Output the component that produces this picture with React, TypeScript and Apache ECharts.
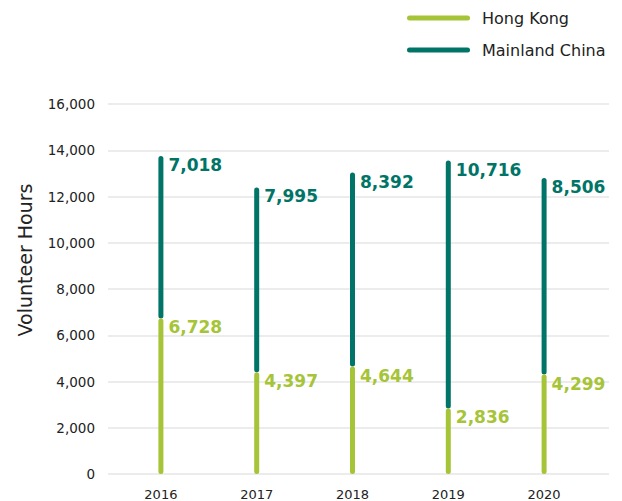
import React, { useEffect, useRef } from "react";
import * as echarts from "echarts";

const years = ["2016", "2017", "2018", "2019", "2020"];
const hongKong = [6728, 4397, 4644, 2836, 4299];
const mainland = [7018, 7995, 8392, 10716, 8506];
const yTicks = { min: 0, max: 16000, interval: 2000 };

const GREEN = "#a6c437";
const TEAL = "#007466";
const FONT = "DejaVu Sans";

const fmt = (v: number) => v.toLocaleString("en-US");

export default function App() {
  const ref = useRef<HTMLDivElement>(null);
  useEffect(() => {
    if (!ref.current) return;
    const chart = echarts.init(ref.current, null, { renderer: "svg" });
    const legendIcon =
      "path://M2.5,0 L60.5,0 A2.5,2.5 0 0 1 60.5,5 L2.5,5 A2.5,2.5 0 0 1 2.5,0 Z";
    const labelCommon = {
      show: true,
      position: [10, 9] as any,
      align: "left",
      verticalAlign: "middle",
      fontFamily: FONT,
      fontWeight: "bold",
      fontSize: 17,
      formatter: (p: any) => fmt(p.value),
    };
    chart.setOption({
      animation: false,
      backgroundColor: "#ffffff",
      legend: {
        left: 407,
        top: 10,
        padding: 0,
        orient: "vertical",
        itemWidth: 63,
        itemHeight: 5,
        itemGap: 16,
        icon: legendIcon,
        textStyle: {
          fontFamily: FONT,
          fontSize: 16,
          color: "#222",
          padding: [0, 0, 0, 7],
        },
        data: ["Hong Kong", "Mainland China"],
      },
      graphic: [
        {
          type: "text",
          x: 25,
          y: 260,
          rotation: Math.PI / 2,
          style: {
            text: "Volunteer Hours",
            fontFamily: FONT,
            fontSize: 19,
            fill: "#222",
            align: "center",
            verticalAlign: "middle",
          },
        },
      ],
      grid: [
        { left: 108, right: 13, top: 104, bottom: 27 },
        { left: 113, right: 30, top: 104, bottom: 27 },
      ],
      xAxis: [
        { type: "value", gridIndex: 0, show: false, min: 0, max: 1 },
        {
          type: "category",
          gridIndex: 1,
          data: years,
          axisLine: { show: false },
          axisTick: { show: false },
          axisLabel: {
            fontFamily: FONT,
            fontSize: 13,
            color: "#222",
            margin: 14,
          },
        },
      ],
      yAxis: [
        {
          type: "value",
          gridIndex: 0,
          min: yTicks.min,
          max: yTicks.max,
          interval: yTicks.interval,
          axisLine: { show: false },
          axisTick: { show: false },
          axisLabel: {
            fontFamily: FONT,
            fontSize: 13.5,
            color: "#222",
            margin: 13,
            formatter: (v: number) => fmt(v),
          },
          splitLine: { lineStyle: { color: "#ececec", width: 2 } },
        },
        {
          type: "value",
          gridIndex: 1,
          min: yTicks.min,
          max: yTicks.max,
          interval: yTicks.interval,
          show: false,
          splitLine: { show: false },
        },
      ],
      series: [
        {
          name: "Hong Kong",
          type: "bar",
          xAxisIndex: 1,
          yAxisIndex: 1,
          stack: "total",
          barWidth: 5,
          data: hongKong,
          itemStyle: { color: GREEN, borderRadius: 2.5 },
          label: { ...labelCommon, color: GREEN },
          z: 3,
        },
        {
          name: "Mainland China",
          type: "bar",
          xAxisIndex: 1,
          yAxisIndex: 1,
          stack: "total",
          barWidth: 5,
          data: mainland,
          itemStyle: { color: TEAL, borderRadius: 2.5 },
          label: { ...labelCommon, color: TEAL },
          z: 2,
        },
      ],
    });
    return () => chart.dispose();
  }, []);
  return (
    <div
      ref={ref}
      style={{ position: "fixed", left: 0, top: 0, width: 622, height: 501 }}
    />
  );
}
